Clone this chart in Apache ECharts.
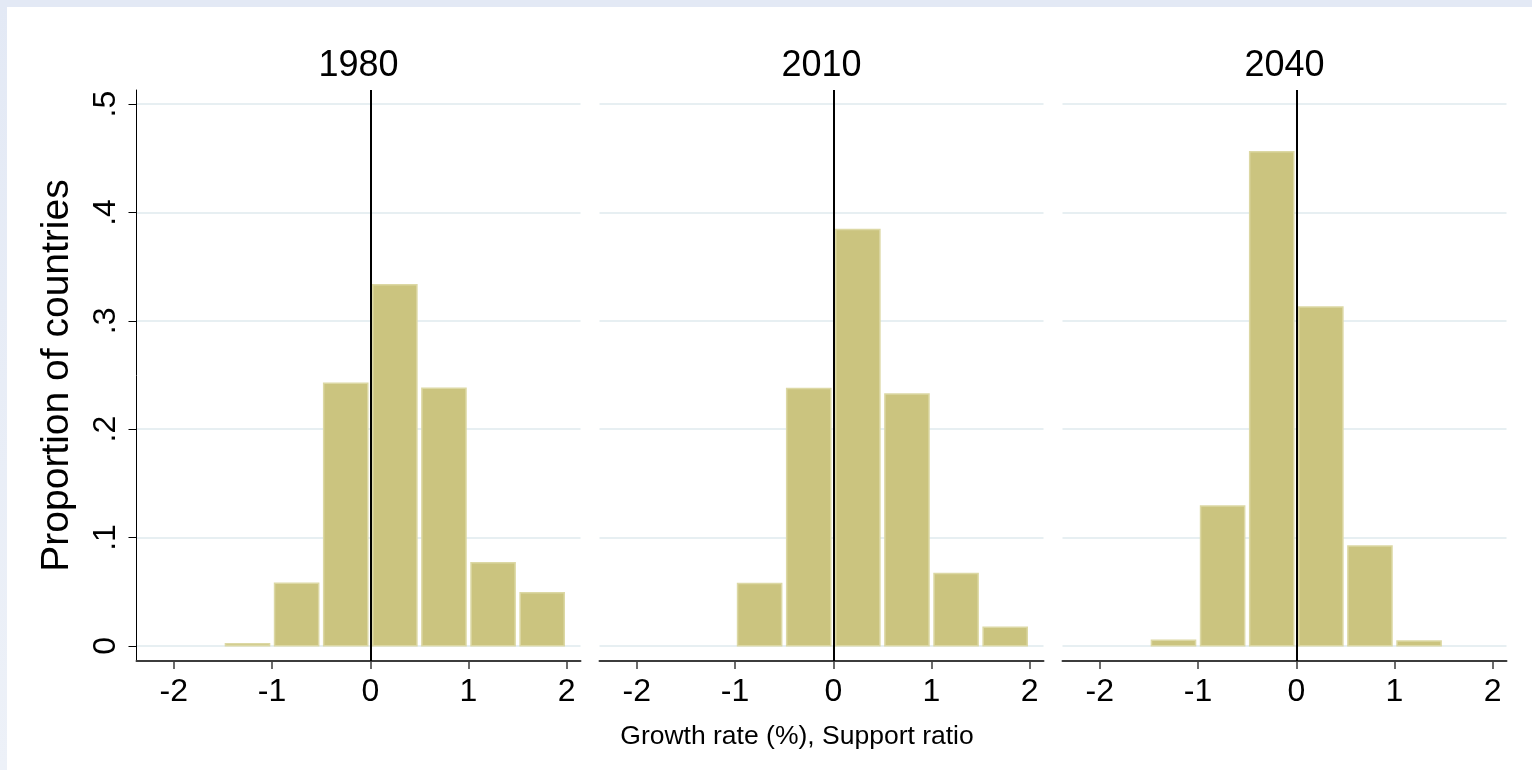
<!DOCTYPE html>
<html>
<head>
<meta charset="utf-8">
<script src="https://cdn.jsdelivr.net/npm/echarts@6/dist/echarts.min.js"></script>
<style>
  html, body { margin: 0; padding: 0; }
  #chart {
    width: 1532px; height: 770px;
    background:
      linear-gradient(#e3e9f5, #e3e9f5) top left / 100% 7px no-repeat,
      linear-gradient(#e3e9f5, #edf1f8) top left / 7px 100% no-repeat,
      #ffffff;
  }
</style>
</head>
<body>
<div id="chart"></div>
<script>
// Histogram bins: left edge of each bin, all bins 0.5 wide
const panelTitles = ['1980', '2010', '2040'];
const binStarts = [-1.5, -1, -0.5, 0, 0.5, 1, 1.5];
const binWidth = 0.5;

// Share of countries falling in each bin
const share1980 = [0.0025, 0.0584, 0.2431, 0.3340, 0.2385, 0.0773, 0.0496];
const share2010 = [0, 0.0582, 0.2382, 0.3850, 0.2332, 0.0674, 0.0178];
const share2040 = [0.0058, 0.1297, 0.4566, 0.3133, 0.0928, 0.0052, 0];

const xTicks = [-2, -1, 0, 1, 2];
const xTickLabels = ['-2', '-1', '0', '1', '2'];
const yTicks = [0, 0.1, 0.2, 0.3, 0.4, 0.5];
const yTickLabels = ['0', '.1', '.2', '.3', '.4', '.5'];

const xTitle = 'Growth rate (%), Support ratio';
const yTitle = 'Proportion of countries';

const FONT = '"Liberation Sans", Arial, Helvetica, sans-serif';
const BAR_FILL = '#cbc47f';
const BAR_EDGE = '#dcd8a4';
const GRID_LINE = '#e7eff2';

const panelShares = [share1980, share2010, share2040];
const panelLeft = [136.5, 599.5, 1062.5];
const panelWidth = 444;
const plotTop = 90;
const plotHeight = 571;

const chart = echarts.init(document.getElementById('chart'), null, { renderer: 'canvas' });

const grids = [], xAxes = [], yAxes = [], series = [], graphics = [];

panelShares.forEach((shares, i) => {
  grids.push({
    left: panelLeft[i], top: plotTop, width: panelWidth, height: plotHeight,
    outerBoundsMode: 'none', containLabel: false
  });

  xAxes.push({
    type: 'value', gridIndex: i, min: -2.38, max: 2.14,
    axisLine: { show: true, onZero: false, lineStyle: { color: '#3c3c3c', width: 2 } },
    axisTick: { show: true, customValues: xTicks, length: 8, lineStyle: { color: '#3c3c3c', width: 1.5 } },
    axisLabel: {
      show: true, customValues: xTicks, margin: 15,
      formatter: v => xTickLabels[xTicks.indexOf(v)] ?? '',
      color: '#000', fontFamily: FONT, fontSize: 32
    },
    splitLine: { show: false }
  });

  const first = i === 0;
  yAxes.push({
    type: 'value', gridIndex: i, min: -0.014, max: 0.513,
    name: first ? yTitle : '',
    nameLocation: 'middle', nameGap: 60, nameRotate: 90,
    nameTextStyle: { color: '#000', fontFamily: FONT, fontSize: 39 },
    axisLine: { show: first, onZero: false, lineStyle: { color: '#000', width: 1 } },
    axisTick: { show: first, customValues: yTicks, length: 8, lineStyle: { color: '#000', width: 1 } },
    axisLabel: {
      show: first, customValues: yTicks, rotate: 90, margin: 14,
      formatter: v => yTickLabels[yTicks.findIndex(t => Math.abs(t - v) < 1e-9)] ?? '',
      color: '#000', fontFamily: FONT, fontSize: 32
    },
    splitLine: { show: true, lineStyle: { color: GRID_LINE, width: 2 } }
  });

  series.push({
    type: 'custom', xAxisIndex: i, yAxisIndex: i,
    data: binStarts.map((s, k) => [s, shares[k]]),
    renderItem: (params, api) => {
      const start = api.value(0), h = api.value(1);
      if (!h) return null;
      const p0 = api.coord([start, 0]);
      const p1 = api.coord([start + binWidth, h]);
      return {
        type: 'rect',
        shape: { x: p0[0] + 2.5, y: p1[1] + 0.75, width: p1[0] - p0[0] - 5, height: p0[1] - p1[1] - 0.75 },
        style: { fill: BAR_FILL, stroke: BAR_EDGE, lineWidth: 1.5 }
      };
    },
    markLine: {
      silent: true, symbol: 'none', animation: false,
      label: { show: false },
      lineStyle: { color: '#000', width: 2, type: 'solid' },
      data: [{ xAxis: 0 }]
    },
    animation: false
  });

  graphics.push({
    type: 'text', x: panelLeft[i] + panelWidth / 2, y: 66,
    style: { text: panelTitles[i], fill: '#000', font: '36px ' + FONT, textAlign: 'center', textVerticalAlign: 'middle' }
  });
});

graphics.push({
  type: 'text', x: 797, y: 737,
  style: { text: xTitle, fill: '#000', font: '26.5px ' + FONT, textAlign: 'center', textVerticalAlign: 'middle' }
});

chart.setOption({
  backgroundColor: 'transparent',
  animation: false,
  grid: grids,
  xAxis: xAxes,
  yAxis: yAxes,
  series: series,
  graphic: graphics
});
</script>
</body>
</html>
